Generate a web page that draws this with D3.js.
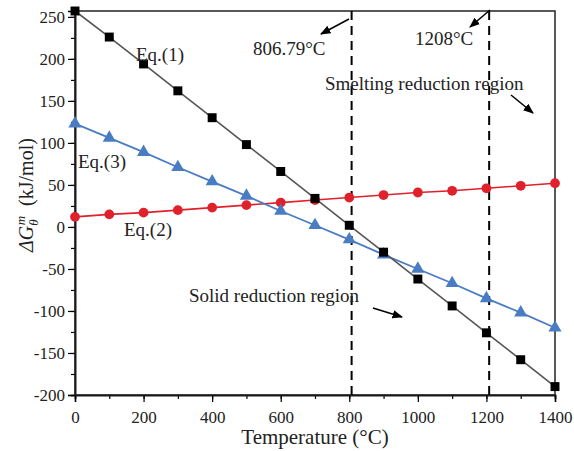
<!DOCTYPE html>
<html>
<head>
<meta charset="utf-8">
<script src="https://cdn.jsdelivr.net/npm/d3@7"></script>
<style>
body { margin: 0; background: #fff; }
text { font-family: "Liberation Serif", "DejaVu Serif", serif; }
</style>
</head>
<body>
<svg width="574" height="451"></svg>
<script>
// data
var temps = [0, 100, 200, 300, 400, 500, 600, 700, 800, 900, 1000, 1100, 1200, 1300, 1400];
var eq1 = [257, 226, 194, 162, 130, 98, 66, 34, 2, -30, -62, -94, -126, -158, -190];
var eq2 = [12, 15, 17, 20, 23, 26, 29, 32, 35, 38, 41, 43, 46, 49, 52];
var eq3 = [123, 106, 89, 71, 54, 37, 19, 2, -15, -33, -50, -67, -85, -102, -120];
var xTicks = [0, 200, 400, 600, 800, 1000, 1200, 1400];
var yTicks = [-200, -150, -100, -50, 0, 50, 100, 150, 200, 250];
var critTemps = [806.79, 1208];

var svg = d3.select("svg");
var margin = {left: 75, right: 19, top: 11, bottom: 56};
var W = 574, H = 451;
var SERIF = "'Liberation Serif', 'DejaVu Serif', serif";

var x = d3.scaleLinear().domain([0, 1400]).range([margin.left, W - margin.right]);
var y = d3.scaleLinear().domain([-200, 257]).range([H - margin.bottom, margin.top]);

// plain hyphen for negatives, like the original
var fmt = (d) => (d < 0 ? "-" + Math.abs(d) : "" + d);

// arrow head
svg.append("defs").append("marker")
	.attr("id", "ah")
	.attr("viewBox", "0 0 10 10")
	.attr("refX", 9).attr("refY", 5)
	.attr("markerWidth", 7).attr("markerHeight", 7)
	.attr("orient", "auto")
	.append("path").attr("d", "M0,1 L10,5 L0,9 z").attr("fill", "#000");

// Axes (major + minor)
var xAxis = svg.append("g").attr("transform", "translate(0," + y.range()[0] + ")");
xAxis.call(d3.axisBottom(x).tickValues(d3.range(0, 1401, 100)).tickSize(4).tickFormat(""));
xAxis.append("g").call(d3.axisBottom(x).tickValues(xTicks).tickSize(7).tickFormat(fmt));
var yAxis = svg.append("g").attr("transform", "translate(" + x.range()[0] + ",0)");
yAxis.call(d3.axisLeft(y).tickValues(d3.range(-200, 251, 25)).tickSize(4).tickFormat(""));
yAxis.append("g").call(d3.axisLeft(y).tickValues(yTicks).tickSize(7).tickFormat(fmt));
svg.selectAll("g").attr("font-family", SERIF);
svg.selectAll(".domain").attr("stroke-width", 1.5);
svg.selectAll(".tick line").attr("stroke-width", 1.2);
svg.selectAll(".tick text")
	.style("font-family", SERIF)
	.style("font-size", "17px").attr("fill", "#222");
xAxis.selectAll(".tick text").attr("dy", "1.05em");
yAxis.selectAll(".tick text").attr("dy", "0.34em");

// frame
svg.append("rect")
	.attr("x", x.range()[0]).attr("y", y.range()[1])
	.attr("width", x.range()[1] - x.range()[0])
	.attr("height", y.range()[0] - y.range()[1])
	.attr("fill", "none").attr("stroke", "#222").attr("stroke-width", 1.5);

// dashed critical temperature lines
svg.selectAll(".crit").data(critTemps).enter().append("line")
	.attr("x1", (d) => x(d)).attr("x2", (d) => x(d))
	.attr("y1", y.range()[1]).attr("y2", y.range()[0])
	.attr("stroke", "#000").attr("stroke-width", 2)
	.attr("stroke-dasharray", "9,6");

var line = d3.line().x((d) => x(d[0])).y((d) => y(d[1]));

function series(vals, color, width, sym, size) {
	var pts = temps.map((t, i) => [t, vals[i]]);
	svg.append("path").datum(pts)
		.attr("d", line).attr("fill", "none")
		.attr("stroke", color).attr("stroke-width", width);
	svg.append("g").selectAll("path").data(pts).enter().append("path")
		.attr("transform", (d) => "translate(" + x(d[0]) + "," + y(d[1]) + ")")
		.attr("d", d3.symbol().type(sym).size(size))
		.attr("fill", color == "#555" ? "#000" : color);
}

series(eq2, "#e0202a", 1.6, d3.symbolCircle, 75);
series(eq3, "#4a7cc4", 1.8, d3.symbolTriangle, 75);
series(eq1, "#555", 1.6, d3.symbolSquare, 80);

// labels
function label(tx, ty, s, size) {
	svg.append("text").attr("x", tx).attr("y", ty)
		.style("font-size", (size || 19) + "px").attr("fill", "#222").text(s);
}
label(136, 61, "Eq.(1)");
label(78, 168, "Eq.(3)");
label(124, 236, "Eq.(2)");
label(253, 55, "806.79\u00b0C");
label(415, 45, "1208\u00b0C");
label(325, 90, "Smelting reduction region");
label(189, 302, "Solid reduction region");

// arrows
var arrows = [
	[[349, 19], [321, 34]],
	[[490, 10], [470, 27]],
	[[511, 95], [533, 113]],
	[[373, 308], [402, 317]]
];
svg.selectAll(".arr").data(arrows).enter().append("line")
	.attr("x1", (d) => d[0][0]).attr("y1", (d) => d[0][1])
	.attr("x2", (d) => d[1][0]).attr("y2", (d) => d[1][1])
	.attr("stroke", "#000").attr("stroke-width", 1.5)
	.attr("marker-end", "url(#ah)");

// axis titles
svg.append("text")
	.attr("x", (x.range()[0] + x.range()[1]) / 2).attr("y", 444)
	.attr("text-anchor", "middle").style("font-size", "21px").attr("fill", "#222")
	.text("Temperature (\u00b0C)");

var yl = svg.append("text")
	.attr("transform", "translate(33," + 195 + ") rotate(-90)")
	.attr("text-anchor", "middle").style("font-size", "20px").attr("fill", "#222");
yl.append("tspan").style("font-style", "italic").text("\u0394G");
yl.append("tspan").style("font-style", "italic").style("font-size", "13px").attr("dy", 5).text("\u03b8");
yl.append("tspan").style("font-style", "italic").style("font-size", "13px").attr("dx", -6).attr("dy", -13).text("m");
yl.append("tspan").attr("dy", 8).text("\u2002(kJ/mol)");
</script>
</body>
</html>
